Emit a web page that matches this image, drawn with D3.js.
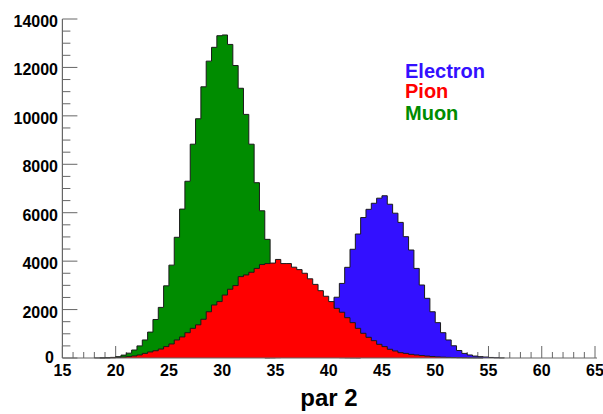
<!DOCTYPE html>
<html>
<head>
<meta charset="utf-8">
<script src="https://cdn.jsdelivr.net/npm/d3@7/dist/d3.min.js"></script>
<style>
  html, body { margin: 0; padding: 0; background: #fff; }
  svg { display: block; }
  text { font-family: "Liberation Sans", Arial, Helvetica, sans-serif; font-weight: bold; }
</style>
</head>
<body>
<svg id="chart" width="603" height="414"></svg>
<script>
// Histogram binning: 0.5-wide bins on [15, 65]
const binWidth = 0.5;
const xDomain = [15, 65];
const yDomain = [0, 14000];

// Counts per bin; each series starts at its own first non-empty bin
const muonStart = 18.0;
const muonCounts = [3, 5, 10, 25, 55, 120, 200, 330, 500, 745, 1070, 1590, 2090, 2980, 3835, 4985,
  6150, 7300, 8830, 9880, 11200, 12260, 12830, 13310, 13340, 12950, 12080, 11140, 10060, 8830,
  7240, 6080, 4900, 3650, 2700, 1950, 1380, 950, 640, 420, 270, 170, 105, 65, 40, 24, 14, 8, 5, 3];

const pionStart = 18.5;
const pionCounts = [2, 5, 10, 20, 35, 55, 85, 125, 190, 250, 300, 370, 470, 580, 745, 870, 1045,
  1225, 1370, 1600, 1910, 2190, 2330, 2600, 2840, 2990, 3360, 3430, 3540, 3700, 3860, 3900, 3920,
  4070, 3900, 3900, 3750, 3650, 3500, 3270, 3040, 2780, 2550, 2330, 2050, 1890, 1665, 1460, 1225,
  1020, 855, 715, 565, 470, 360, 290, 220, 190, 150, 125, 100, 80, 60, 45, 35, 25, 18, 12, 8, 5, 3, 2];

const electronStart = 34.0;
const electronCounts = [3, 7, 15, 30, 60, 110, 190, 310, 480, 720, 1050, 1450, 1950, 2510, 3080,
  3745, 4490, 5120, 5800, 6140, 6390, 6600, 6700, 6350, 5980, 5600, 5010, 4460, 3700, 3015, 2465,
  1910, 1460, 1045, 745, 505, 310, 190, 125, 80, 55, 40, 22, 10, 4];

// Axis ticks
const xMajorTicks = [15, 20, 25, 30, 35, 40, 45, 50, 55, 60, 65];
const xMinorStep = 1;
const yMajorTicks = [0, 2000, 4000, 6000, 8000, 10000, 12000, 14000];
const yMinorStep = 500;

// Legend entries
const legendNames = ["Electron", "Pion", "Muon"];
const legendColors = ["#3310ff", "#ff0000", "#008c00"];
const xTitle = "par 2";

const svg = d3.select("#chart");
const x = d3.scaleLinear().domain(xDomain).range([62.4, 595]);
const y = d3.scaleLinear().domain(yDomain).range([358, 19]);

// Axes (ticks drawn inside the frame, below the histograms)
const axisColor = "#666";
const axes = svg.append("g");

// X axis ticks
const xMinor = d3.range(xDomain[0], xDomain[1] + 1e-9, xMinorStep).filter(v => !xMajorTicks.includes(v));
axes.selectAll("line.xmin").data(xMinor).join("line")
  .attr("x1", d => x(d)).attr("x2", d => x(d))
  .attr("y1", y(0)).attr("y2", y(0) - 6)
  .attr("stroke", axisColor).attr("stroke-width", 1);
axes.selectAll("line.xmaj").data(xMajorTicks).join("line")
  .attr("x1", d => x(d)).attr("x2", d => x(d))
  .attr("y1", y(0)).attr("y2", y(0) - 12)
  .attr("stroke", axisColor).attr("stroke-width", 1);

// Y axis ticks
const yMinor = d3.range(yDomain[0], yDomain[1] + 1e-9, yMinorStep).filter(v => !yMajorTicks.includes(v));
axes.selectAll("line.ymin").data(yMinor).join("line")
  .attr("x1", x(xDomain[0])).attr("x2", x(xDomain[0]) + 8)
  .attr("y1", d => y(d)).attr("y2", d => y(d))
  .attr("stroke", axisColor).attr("stroke-width", 1);
axes.selectAll("line.ymaj").data(yMajorTicks).join("line")
  .attr("x1", x(xDomain[0])).attr("x2", x(xDomain[0]) + 15)
  .attr("y1", d => y(d)).attr("y2", d => y(d))
  .attr("stroke", axisColor).attr("stroke-width", 1);

// Build step outline points for a histogram
function stepPoints(start, counts) {
  const pts = [[start, 0]];
  counts.forEach((c, i) => {
    const lo = start + i * binWidth;
    pts.push([lo, c], [lo + binWidth, c]);
  });
  pts.push([start + counts.length * binWidth, 0]);
  return pts;
}

const area = d3.area().x(d => x(d[0])).y0(y(0)).y1(d => y(d[1]));
const line = d3.line().x(d => x(d[0])).y(d => y(d[1]));

// Drawing order: muon, electron, then pion on top
const hists = [
  { start: muonStart, counts: muonCounts, color: legendColors[2] },
  { start: electronStart, counts: electronCounts, color: legendColors[0] },
  { start: pionStart, counts: pionCounts, color: legendColors[1] }
];
const hg = svg.append("g");
hists.forEach(h => {
  const pts = stepPoints(h.start, h.counts);
  hg.append("path").attr("d", area(pts)).attr("fill", h.color);
  hg.append("path").attr("d", line(pts)).attr("fill", "none")
    .attr("stroke", "#1a1a1a").attr("stroke-width", 1);
});

// Axis lines
svg.append("line").attr("x1", x(xDomain[0])).attr("x2", x(xDomain[0]))
  .attr("y1", y(yDomain[1])).attr("y2", y(0)).attr("stroke", axisColor).attr("stroke-width", 1.2);
svg.append("line").attr("x1", x(xDomain[0])).attr("x2", x(xDomain[1]) + 2)
  .attr("y1", y(0)).attr("y2", y(0)).attr("stroke", axisColor).attr("stroke-width", 1.2);

// Tick labels (the zero label is nudged up and left, clear of the "15" below it)
svg.selectAll("text.ylab").data(yMajorTicks).join("text")
  .attr("x", d => d === 0 ? 54 : 58).attr("y", d => y(d) + (d === 0 ? 5 : 8))
  .attr("text-anchor", "end").attr("font-size", 16).attr("fill", "#000")
  .text(d => d);
svg.selectAll("text.xlab").data(xMajorTicks).join("text")
  .attr("x", d => x(d)).attr("y", 375.5)
  .attr("text-anchor", "middle").attr("font-size", 16).attr("fill", "#000")
  .text(d => d);

// Axis title
svg.append("text").attr("x", 329).attr("y", 406)
  .attr("text-anchor", "middle").attr("font-size", 24).attr("fill", "#000")
  .text(xTitle);

// Legend
const legendY = [78, 98, 120];
svg.selectAll("text.leg").data(legendNames).join("text")
  .attr("x", 405).attr("y", (d, i) => legendY[i])
  .attr("font-size", 20).attr("fill", (d, i) => legendColors[i])
  .text(d => d);
</script>
</body>
</html>
